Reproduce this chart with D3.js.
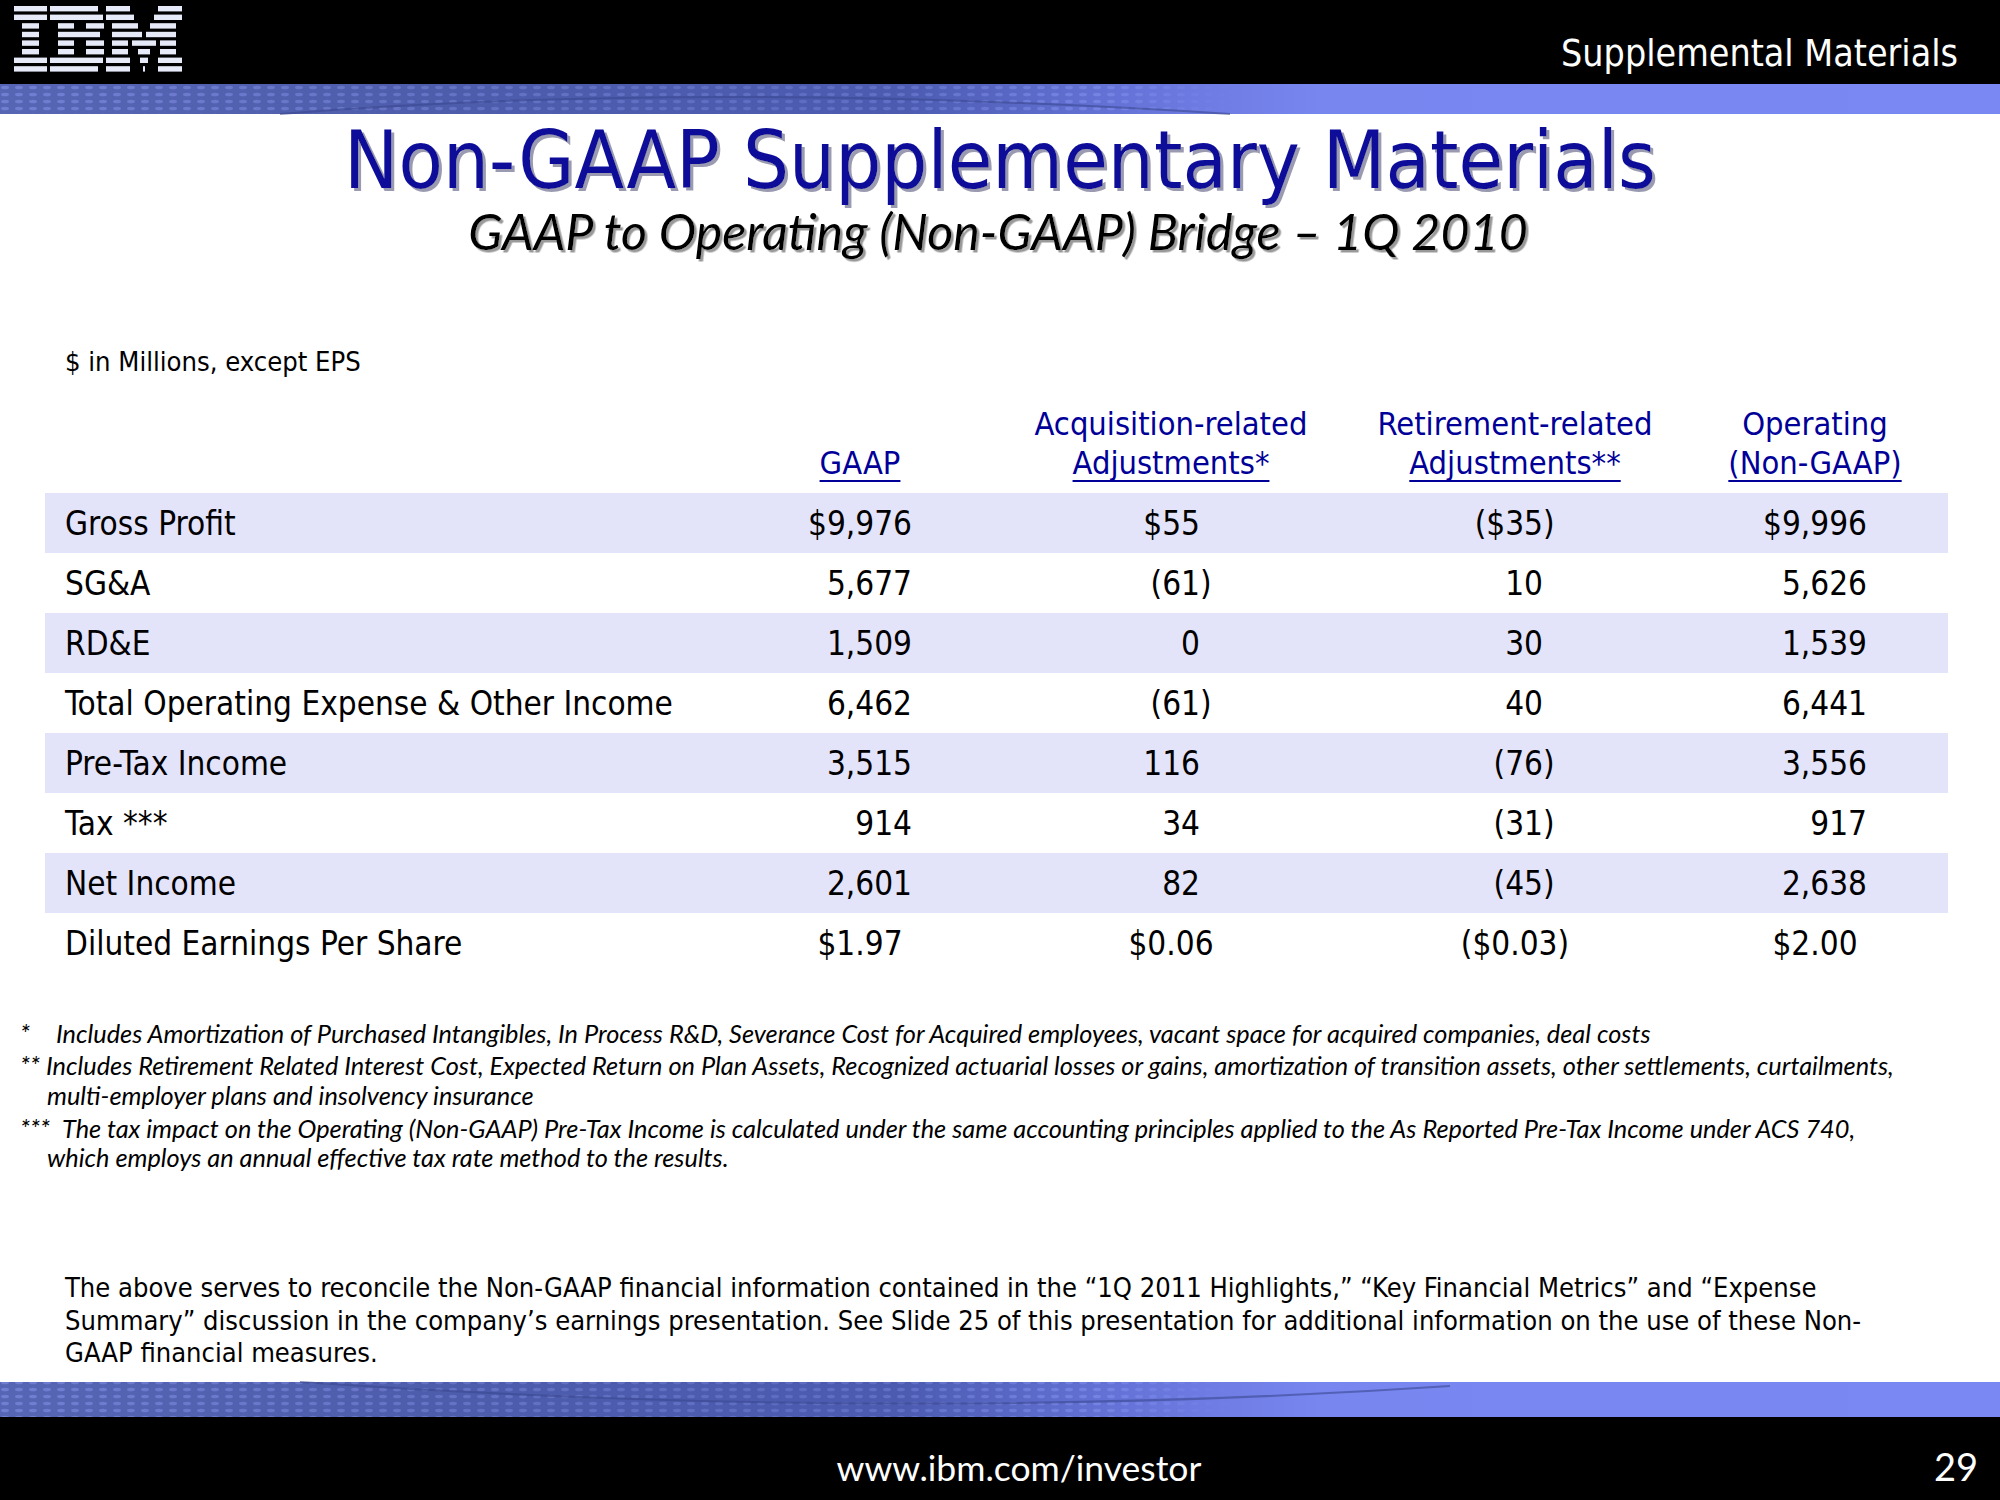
<!DOCTYPE html>
<html>
<head>
<meta charset="utf-8">
<script src="https://cdn.jsdelivr.net/npm/d3@7"></script>
<style>
  html, body { margin: 0; padding: 0; background: #fff; }
  svg { display: block; }
</style>
</head>
<body>
<svg id="chart" width="2000" height="1500"></svg>
<script>
// ---------------- DATA ----------------
const rowLabels = ["Gross Profit", "SG&A", "RD&E", "Total Operating Expense & Other Income",
                   "Pre-Tax Income", "Tax ***", "Net Income", "Diluted Earnings Per Share"];
const columnKeys = ["gaap", "acq", "ret", "oper"];
const headerLine1 = ["", "Acquisition-related", "Retirement-related", "Operating"];
const headerLine2 = ["GAAP", "Adjustments*", "Adjustments**", "(Non-GAAP)"];
const gaapValues = [9976, 5677, 1509, 6462, 3515, 914, 2601, 1.97];
const acqValues  = [55, -61, 0, -61, 116, 34, 82, 0.06];
const retValues  = [-35, 10, 30, 40, -76, -31, -45, -0.03];
const operValues = [9996, 5626, 1539, 6441, 3556, 917, 2638, 2.00];
const dollarRows = ["Gross Profit", "Diluted Earnings Per Share"];
const epsRow = "Diluted Earnings Per Share";

const titleText = "Non-GAAP Supplementary Materials";
const subtitleText = "GAAP to Operating (Non-GAAP) Bridge \u2013 1Q 2010";
const unitsText = "$ in Millions, except EPS";
const headerRightText = "Supplemental Materials";
const footerText = "www.ibm.com/investor";
const pageNumber = "29";
const footnoteLines = [
  {mark: "*", text: "Includes Amortization of Purchased Intangibles, In Process R&D, Severance Cost for Acquired employees, vacant space for acquired companies, deal costs"},
  {mark: "**", text: "Includes Retirement Related Interest Cost, Expected Return on Plan Assets, Recognized actuarial losses or gains, amortization of transition assets, other settlements, curtailments,"},
  {mark: "", text: "multi-employer plans and insolvency insurance"},
  {mark: "***", text: "The tax impact on the Operating (Non-GAAP) Pre-Tax Income is calculated under the same accounting principles applied to the As Reported Pre-Tax Income under ACS 740,"},
  {mark: "", text: "which employs an annual effective tax rate method to the results."}
];
const paragraphLines = [
  "The above serves to reconcile the Non-GAAP financial information contained in the \u201c1Q 2011 Highlights,\u201d \u201cKey Financial Metrics\u201d and \u201cExpense",
  "Summary\u201d discussion in the company\u2019s earnings presentation. See Slide 25 of this presentation for additional information on the use of these Non-",
  "GAAP financial measures."
];

// ---------------- LAYOUT ----------------
const W = 2000, H = 1500;
const sansC = "'DejaVu Sans Condensed', 'DejaVu Sans', sans-serif";
const humanist = "Lato, 'Open Sans', sans-serif";
const headerBlue = "#000099";
const titleBlue = "#0d0d9a";
const bandFill = "#e3e3fa";

const svg = d3.select("#chart");
const defs = svg.append("defs");

function fit(sel, width) {
  const fs = parseFloat(sel.attr("font-size"));
  const len = sel.node().getComputedTextLength();
  sel.attr("font-size", fs * width / len);
  return fs * width / len;
}

// drop shadow filters
defs.append("filter").attr("id", "shadowTitle").attr("x", "-5%").attr("y", "-20%").attr("width", "110%").attr("height", "140%")
  .append("feDropShadow").attr("dx", 3).attr("dy", 3).attr("stdDeviation", 0.6).attr("flood-color", "#9a9ab0").attr("flood-opacity", 1);
defs.append("filter").attr("id", "shadowSub").attr("x", "-5%").attr("y", "-20%").attr("width", "110%").attr("height", "140%")
  .append("feDropShadow").attr("dx", 2.5).attr("dy", 2.5).attr("stdDeviation", 0.6).attr("flood-color", "#999").attr("flood-opacity", 1);

// ---------- decorative bands ----------
const grad = defs.append("linearGradient").attr("id", "bandGrad").attr("x1", 0).attr("x2", 1).attr("y1", 0).attr("y2", 0);
[[0, "#5665b4"], [0.22, "#4d5cab"], [0.45, "#4c5bb0"], [0.56, "#6573d8"], [0.66, "#7886f0"], [1, "#7a88f4"]]
  .forEach(([o, c]) => grad.append("stop").attr("offset", o).attr("stop-color", c));

const pat = defs.append("pattern").attr("id", "dots").attr("patternUnits", "userSpaceOnUse")
  .attr("width", 14).attr("height", 7);
pat.append("ellipse").attr("cx", 5).attr("cy", 3.5).attr("rx", 4).attr("ry", 1.8).attr("fill", "#9aa6ff").attr("opacity", 0.4);

const fade = defs.append("linearGradient").attr("id", "fadeGrad").attr("x1", 0).attr("x2", 1).attr("y1", 0).attr("y2", 0);
[[0, 1], [0.4, 0.6], [0.55, 0.9], [0.62, 0]].forEach(([o, a]) =>
  fade.append("stop").attr("offset", o).attr("stop-color", "#fff").attr("stop-opacity", a));
defs.append("mask").attr("id", "fadeMask").attr("maskContentUnits", "objectBoundingBox")
  .append("rect").attr("width", 1).attr("height", 1).attr("fill", "url(#fadeGrad)");

function band(y, h, flip) {
  const g = svg.append("g");
  g.append("rect").attr("x", 0).attr("y", y).attr("width", W).attr("height", h).attr("fill", "url(#bandGrad)");
  g.append("rect").attr("x", 0).attr("y", y).attr("width", W).attr("height", h)
    .attr("fill", "url(#dots)").attr("mask", "url(#fadeMask)");
  const p = d3.path();
  if (!flip) { p.moveTo(280, y + h); p.quadraticCurveTo(700, y - 4, 1230, y + h); }
  else { p.moveTo(300, y); p.quadraticCurveTo(900, y + h + 6, 1450, y + 4); }
  g.append("path").attr("d", p.toString()).attr("fill", "none").attr("stroke", "#3a4890").attr("stroke-width", 2).attr("opacity", 0.6);
}

svg.append("rect").attr("x", 0).attr("y", 0).attr("width", W).attr("height", 84).attr("fill", "#000");
band(84, 30, false);
band(1382, 35, true);
svg.append("rect").attr("x", 0).attr("y", 1417).attr("width", W).attr("height", 83).attr("fill", "#000");

// ---------- IBM logo (8-stripe letters) ----------
const logoRows = [
  [[14,47],[50,98],[106,130],[158,182]],
  [[14,47],[50,103],[106,134],[154,182]],
  [[22,39],[58,74],[86,104],[112,138],[150,176]],
  [[22,39],[58,100],[112,142],[146,176]],
  [[22,39],[58,74],[86,104],[112,128],[132,156],[160,176]],
  [[22,39],[58,74],[86,104],[112,128],[138,150],[160,176]],
  [[14,47],[50,103],[106,130],[140,148],[158,182]],
  [[14,47],[50,98],[106,130],[143,145],[158,182]]
];
const logo = svg.append("g").attr("fill", "#e6eaf8");
const stripeTop = 6, stripePeriod = 8.6, stripeH = 5.4;
logoRows.forEach((spans, r) => {
  logo.selectAll(null).data(spans).join("rect")
    .attr("x", d => d[0]).attr("width", d => d[1] - d[0])
    .attr("y", stripeTop + r * stripePeriod).attr("height", stripeH);
});

// header right text
const hr = svg.append("text").attr("x", 1958).attr("y", 66).attr("text-anchor", "end")
  .attr("font-family", sansC).attr("font-size", 36).attr("fill", "#fff").text(headerRightText);
fit(hr, 397);

// ---------- title ----------
const tt = svg.append("text").attr("x", 1000).attr("y", 188).attr("text-anchor", "middle")
  .attr("font-family", sansC).attr("font-size", 88).attr("fill", titleBlue)
  .attr("filter", "url(#shadowTitle)").text(titleText);
fit(tt, 1312);
const st = svg.append("text").attr("x", 998).attr("y", 250).attr("text-anchor", "middle")
  .attr("font-family", humanist).attr("font-style", "italic").attr("font-size", 52).attr("fill", "#000")
  .attr("filter", "url(#shadowSub)").text(subtitleText);
fit(st, 1060);

// units
const ut = svg.append("text").attr("x", 65).attr("y", 371).attr("font-family", sansC)
  .attr("font-size", 26).attr("fill", "#000").text(unitsText);
fit(ut, 296);

// ---------- table ----------
const y = d3.scaleBand().domain(rowLabels).range([493, 973]);
const xCenter = d3.scaleOrdinal().domain(columnKeys).range([860, 1171, 1515, 1815]);
const xRight = d3.scaleOrdinal().domain(columnKeys).range([912, 1200, 1543, 1867]);
const values = {gaap: gaapValues, acq: acqValues, ret: retValues, oper: operValues};

// row bands
svg.append("g").selectAll("rect").data(rowLabels.filter((d, i) => i % 2 === 0)).join("rect")
  .attr("x", 45).attr("width", 1903)
  .attr("y", d => y(d)).attr("height", y.bandwidth()).attr("fill", bandFill);

// header
const hdr = svg.append("g").attr("font-family", sansC).attr("fill", headerBlue).attr("text-anchor", "middle");
const probe = hdr.append("text").attr("x", xCenter("acq")).attr("y", 435).attr("font-size", 34).text(headerLine1[1]);
const headerSize = fit(probe, 273);
probe.remove();
hdr.selectAll("text.l1").data(columnKeys).join("text").attr("class", "l1")
  .attr("x", d => xCenter(d)).attr("y", 435).attr("font-size", headerSize)
  .text((d, i) => headerLine1[i]);
const l2 = hdr.selectAll("text.l2").data(columnKeys).join("text").attr("class", "l2")
  .attr("x", d => xCenter(d)).attr("y", 474).attr("font-size", headerSize)
  .text((d, i) => headerLine2[i]);
l2.each(function (d) {
  const len = this.getComputedTextLength();
  hdr.append("line").attr("x1", xCenter(d) - len / 2).attr("x2", xCenter(d) + len / 2)
    .attr("y1", 481).attr("y2", 481).attr("stroke", headerBlue).attr("stroke-width", 2);
});

// body
const body = svg.append("g").attr("font-family", sansC).attr("fill", "#000");
const probe2 = body.append("text").attr("x", 65).attr("y", 0).attr("font-size", 34).text(rowLabels[3]);
const bodySize = fit(probe2, 608);
probe2.remove();
const baseOff = 42;
body.selectAll("text.label").data(rowLabels).join("text").attr("class", "label")
  .attr("x", 65).attr("y", d => y(d) + baseOff).attr("font-size", bodySize).text(d => d);

function fmt(v, row) {
  const isEps = row === epsRow;
  const abs = Math.abs(v);
  let s = isEps ? d3.format(".2f")(abs) : d3.format(",")(abs);
  if (dollarRows.includes(row)) s = "$" + s;
  return {core: s, neg: v < 0};
}

const cells = [];
columnKeys.forEach(k => rowLabels.forEach((r, i) => cells.push({col: k, row: r, v: values[k][i]})));
cells.forEach(c => {
  const f = fmt(c.v, c.row);
  const yy = y(c.row) + baseOff;
  if (c.row === epsRow) {
    body.append("text").attr("x", xCenter(c.col)).attr("y", yy).attr("text-anchor", "middle")
      .attr("font-size", bodySize).text(f.neg ? "(" + f.core + ")" : f.core);
  } else if (f.neg) {
    body.append("text").attr("x", xRight(c.col)).attr("y", yy).attr("text-anchor", "end")
      .attr("font-size", bodySize).text("(" + f.core)
      .append("tspan").attr("x", xRight(c.col)).attr("text-anchor", "start").text(")");
  } else {
    body.append("text").attr("x", xRight(c.col)).attr("y", yy).attr("text-anchor", "end")
      .attr("font-size", bodySize).text(f.core);
  }
});

// ---------- footnotes ----------
const fn = svg.append("g").attr("font-family", humanist).attr("font-style", "italic").attr("fill", "#000");
const fnY = [1043, 1075, 1105, 1138, 1167];
const fnX = [56, 46, 47, 62, 47];
const p3 = fn.append("text").attr("x", 46).attr("y", 0).attr("font-size", 22).text(footnoteLines[1].text);
const fnSize = fit(p3, 1894 - 46);
p3.remove();
footnoteLines.forEach((l, i) => {
  if (l.mark) fn.append("text").attr("x", 20).attr("y", fnY[i]).attr("font-size", fnSize).text(l.mark);
  fn.append("text").attr("x", fnX[i]).attr("y", fnY[i]).attr("font-size", fnSize).text(l.text);
});

// ---------- paragraph ----------
const para = svg.append("g").attr("font-family", sansC).attr("fill", "#000");
const p4 = para.append("text").attr("x", 65).attr("y", 0).attr("font-size", 26).text(paragraphLines[1]);
const paraSize = fit(p4, 1862 - 65);
p4.remove();
para.selectAll("text").data(paragraphLines).join("text")
  .attr("x", 65).attr("y", (d, i) => [1297, 1330, 1362][i]).attr("font-size", paraSize).text(d => d);

// ---------- footer ----------
const ft = svg.append("text").attr("x", 1019).attr("y", 1481).attr("text-anchor", "middle")
  .attr("font-family", humanist).attr("font-size", 36).attr("fill", "#fff").text(footerText);
fit(ft, 365);
svg.append("text").attr("x", 1978).attr("y", 1481).attr("text-anchor", "end")
  .attr("font-family", humanist).attr("font-size", 38).attr("fill", "#fff").text(pageNumber);
</script>
</body>
</html>
